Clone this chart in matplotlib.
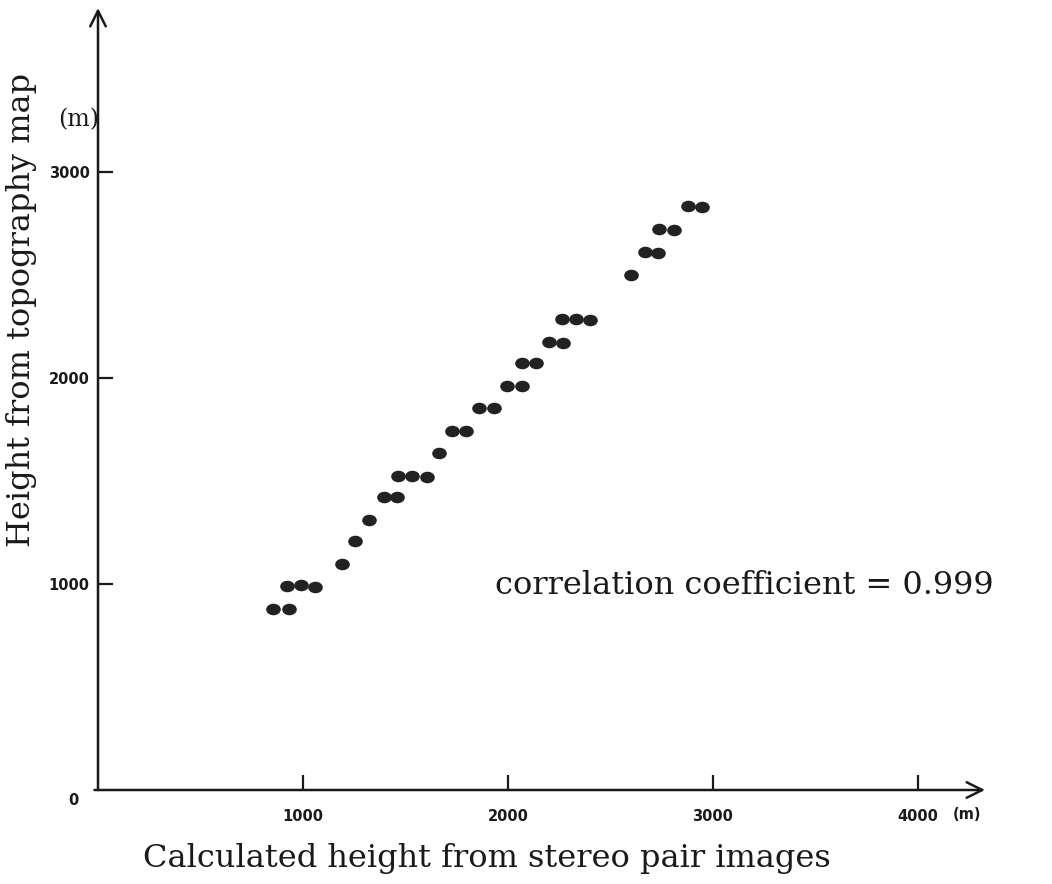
import matplotlib
matplotlib.use('Agg')
import matplotlib.pyplot as plt
import numpy as np
from matplotlib.path import Path

# heights (m)
calc_height = [854, 932, 922, 990, 1059, 1190, 1254, 1322, 1395, 1459,
               1463, 1532, 1605, 1663, 1727, 1795, 1859, 1932, 1995, 2068,
               2068, 2137, 2200, 2268, 2263, 2332, 2400, 2600, 2668, 2732,
               2737, 2810, 2878, 2946]
map_height = [879, 879, 990, 995, 985, 1097, 1209, 1311, 1422, 1422,
              1524, 1524, 1519, 1636, 1743, 1743, 1854, 1854, 1961, 1961,
              2073, 2073, 2175, 2170, 2286, 2286, 2282, 2500, 2612, 2607,
              2723, 2718, 2835, 2830]
x_ticks = [1000, 2000, 3000, 4000]
y_ticks = [1000, 2000, 3000]
corr_text = 'correlation coefficient = 0.999'

W, H = 1052, 884
fig = plt.figure(figsize=(W / 100, H / 100), dpi=100)
fig.patch.set_facecolor('white')

# axes placed so that origin sits at (98, 790) px
x0, y0 = 98, 790
ax = fig.add_axes([x0 / W, (H - y0) / H, (985 - x0) / W, (y0 - 8) / H])
ax.set_xlim(0, (985 - x0) / 0.205)
ax.set_ylim(0, (y0 - 8) / 0.206)
ax.patch.set_alpha(0)
for s in ax.spines.values():
    s.set_visible(False)

ink = '#1a1a1a'
typewriter = dict(family='DejaVu Serif', color=ink)

# axis lines with open arrow heads
arrow = dict(arrowstyle='->', lw=1.8, color=ink, mutation_scale=28,
             shrinkA=0, shrinkB=0)
ax.annotate('', xy=(0, 1), xytext=(0, 0), xycoords='axes fraction',
            arrowprops=arrow, annotation_clip=False)
ax.annotate('', xy=(1, 0), xytext=(-0.004, 0), xycoords='axes fraction',
            arrowprops=arrow, annotation_clip=False)

# slightly oval dots like the hand-drawn marks
circ = Path.unit_circle()
oval = Path(circ.vertices * np.array([1.3, 1.0]), circ.codes)
ax.plot(calc_height, map_height, linestyle='none', marker=oval,
        markersize=9.5, color='#222222')

ax.set_xticks(x_ticks)
ax.set_yticks(y_ticks)
ax.set_xticklabels([str(t) for t in x_ticks])
ax.set_yticklabels([str(t) for t in y_ticks])
ax.tick_params(direction='in', length=11, width=1.6, color=ink,
               labelsize=10.5, labelcolor=ink)
ax.tick_params(axis='x', pad=14)
ax.tick_params(axis='y', pad=6)
for lab in ax.get_xticklabels() + ax.get_yticklabels():
    lab.set_fontweight('bold')

ax.text(-122, -50, '0', ha='center', va='center', fontsize=10.5,
        fontweight='bold', color=ink, clip_on=False)
ax.text(4240, -120, '(m)', ha='center', va='center', fontsize=10.5,
        fontweight='bold', color=ink, clip_on=False)
ax.text(-93, 3252, '(m)', ha='center', va='center', fontsize=17,
        clip_on=False, **typewriter)

ax.text(1937, 995, corr_text, ha='left', va='center', fontsize=23,
        **typewriter)

fig.text(487 / W, 1 - 858 / H, 'Calculated height from stereo pair images',
         ha='center', va='center', fontsize=23, **typewriter)
fig.text(22 / W, 1 - 310 / H, 'Height from topography map',
         ha='center', va='center', rotation=90, fontsize=23, **typewriter)

fig.savefig('out.png', dpi=100, facecolor='white')
